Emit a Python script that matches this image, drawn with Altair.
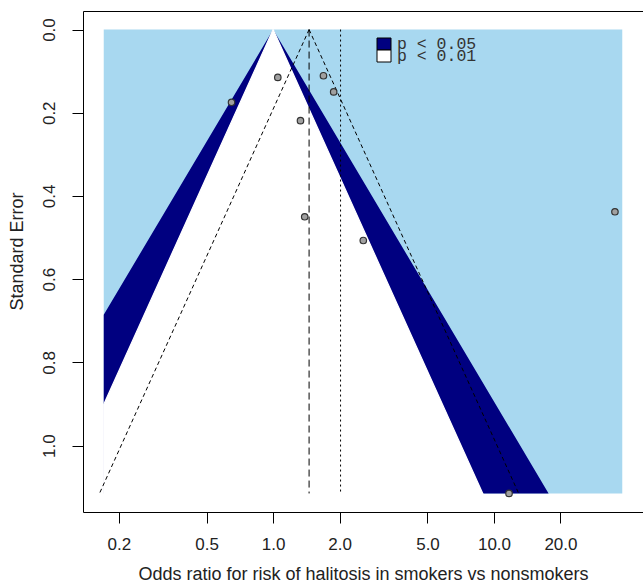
import numpy as np
import pandas as pd
import altair as alt

# ---- data ----
study_or = [0.648, 1.05, 1.69, 1.88, 1.33, 1.39, 2.56, 35.3, 11.7]
study_se = [0.175, 0.115, 0.111, 0.150, 0.219, 0.450, 0.507, 0.438, 1.115]

pooled_fixed = 1.455     # dashed reference line / funnel apex
pooled_random = 2.02     # dotted reference line
x_limits = [0.171, 38.1] # shaded region range (odds ratio)
se_max = 1.115

contour_z = [2.576, 1.96]            # p < 0.01 boundary, p < 0.05 boundary
contour_colors = ["#000080", "#ffffff"]
background_color = "#a8d8f0"
legend_labels = ["p < 0.05", "p < 0.01"]
legend_colors = ["#000080", "#ffffff"]

x_ticks = [0.2, 0.5, 1.0, 2.0, 5.0, 10.0, 20.0]
y_ticks = [0.0, 0.2, 0.4, 0.6, 0.8, 1.0]

# ---- scales (R style 4% extension) ----
lx = np.log(x_limits)
ext = (lx[1] - lx[0]) * 0.04
x_domain = [float(np.exp(lx[0] - ext)), float(np.exp(lx[1] + ext))]
y_ext = se_max * 0.04
y_domain = [-y_ext, se_max + y_ext]

xs = alt.Scale(type="log", domain=x_domain, nice=False, zero=False)
ys = alt.Scale(domain=y_domain, reverse=True, nice=False, zero=False)

W, H = 560, 501

# background
bg = alt.Chart(pd.DataFrame({"x": [x_limits[0]], "x2": [x_limits[1]], "y": [0.0], "y2": [se_max]})).mark_rect(
    color=background_color
).encode(
    x=alt.X("x:Q", scale=xs, axis=alt.Axis(values=x_ticks, format=".1f", title="Odds ratio for risk of halitosis in smokers vs nonsmokers")),
    x2="x2:Q",
    y=alt.Y("y:Q", scale=ys, axis=alt.Axis(values=y_ticks, format=".1f", title="Standard Error")),
    y2="y2:Q",
)

# contour regions
def contour_frame(z):
    breaks = sorted(set([0.0, se_max, -lx[0] / z, lx[1] / z]))
    breaks = [b for b in breaks if 0 <= b <= se_max]
    rows = []
    for s in breaks:
        lo = max(-z * s, lx[0])
        hi = min(z * s, lx[1])
        rows.append({"se": s, "lo": float(np.exp(lo)), "hi": float(np.exp(hi))})
    return pd.DataFrame(rows)

layers = [bg]
for z, c in zip(contour_z, contour_colors):
    kw = dict(orient="horizontal", color=c, opacity=1)
    if c.lower() == "#ffffff":
        kw.update(stroke="#ffffff", strokeWidth=1.2)
    layers.append(
        alt.Chart(contour_frame(z)).mark_area(**kw).encode(
            y=alt.Y("se:Q", scale=ys), x=alt.X("lo:Q", scale=xs), x2="hi:Q"
        )
    )

# pseudo confidence funnel
lp = np.log(pooled_fixed)
funnel = pd.DataFrame({
    "side": ["l", "l", "r", "r"],
    "se": [0.0, se_max, 0.0, se_max],
    "or": [pooled_fixed, float(np.exp(lp - 1.96 * se_max)), pooled_fixed, float(np.exp(lp + 1.96 * se_max))],
})
layers.append(
    alt.Chart(funnel).mark_line(color="black", strokeWidth=1, strokeDash=[4, 3]).encode(
        x=alt.X("or:Q", scale=xs), y=alt.Y("se:Q", scale=ys), detail="side:N", order="se:Q"
    )
)
layers.append(
    alt.Chart(pd.DataFrame({"x": [pooled_fixed], "y": [0.0], "y2": [se_max]})).mark_rule(
        color="black", strokeWidth=1, strokeDash=[7, 4]
    ).encode(x=alt.X("x:Q", scale=xs), y=alt.Y("y:Q", scale=ys), y2="y2:Q")
)
layers.append(
    alt.Chart(pd.DataFrame({"x": [pooled_random], "y": [0.0], "y2": [se_max]})).mark_rule(
        color="black", strokeWidth=1, strokeDash=[2, 3]
    ).encode(x=alt.X("x:Q", scale=xs), y=alt.Y("y:Q", scale=ys), y2="y2:Q")
)

# studies
layers.append(
    alt.Chart(pd.DataFrame({"or": study_or, "se": study_se})).mark_point(
        shape="circle", filled=True, fill="#a0a0a0", stroke="#333333", strokeWidth=1.2, size=42, opacity=1
    ).encode(x=alt.X("or:Q", scale=xs), y=alt.Y("se:Q", scale=ys))
)

# legend
one = pd.DataFrame({"a": [0]})
for i, (lab, col) in enumerate(zip(legend_labels, legend_colors)):
    top = 27 + 12 * i
    layers.append(
        alt.Chart(one).mark_rect(fill=col, stroke="black", strokeWidth=1).encode(
            x=alt.value(294), x2=alt.value(308), y=alt.value(top), y2=alt.value(top + 12)
        )
    )
    layers.append(
        alt.Chart(one).mark_text(
            text=lab, font="Liberation Mono", fontSize=16.5, align="left", baseline="middle", color="#333333"
        ).encode(x=alt.value(314), y=alt.value(top + 6))
    )

chart = alt.layer(*layers).properties(
    width=W, height=H,
    autosize=alt.AutoSizeParams(type="none"),
    padding={"left": 83, "top": 11, "right": 0, "bottom": 71},
    background="white",
).configure_view(
    stroke="black", strokeWidth=1
).configure_axis(
    domain=False, grid=False, tickColor="black", tickSize=11, tickWidth=1,
    labelFont="Liberation Sans", labelFontSize=17, labelColor="#222222",
    titleFont="Liberation Sans", titleFontSize=18, titleFontWeight="normal", titleColor="#222222",
).configure_axisX(
    labelPadding=13, titleY=62, titleBaseline="middle"
).configure_axisY(
    labelAngle=270, labelAlign="center", labelBaseline="bottom", labelPadding=14,
    titleX=-66, titleY=240, titleBaseline="middle", titleAngle=270
)

chart.save("out.html", embed_options={"renderer": "svg", "actions": False})
